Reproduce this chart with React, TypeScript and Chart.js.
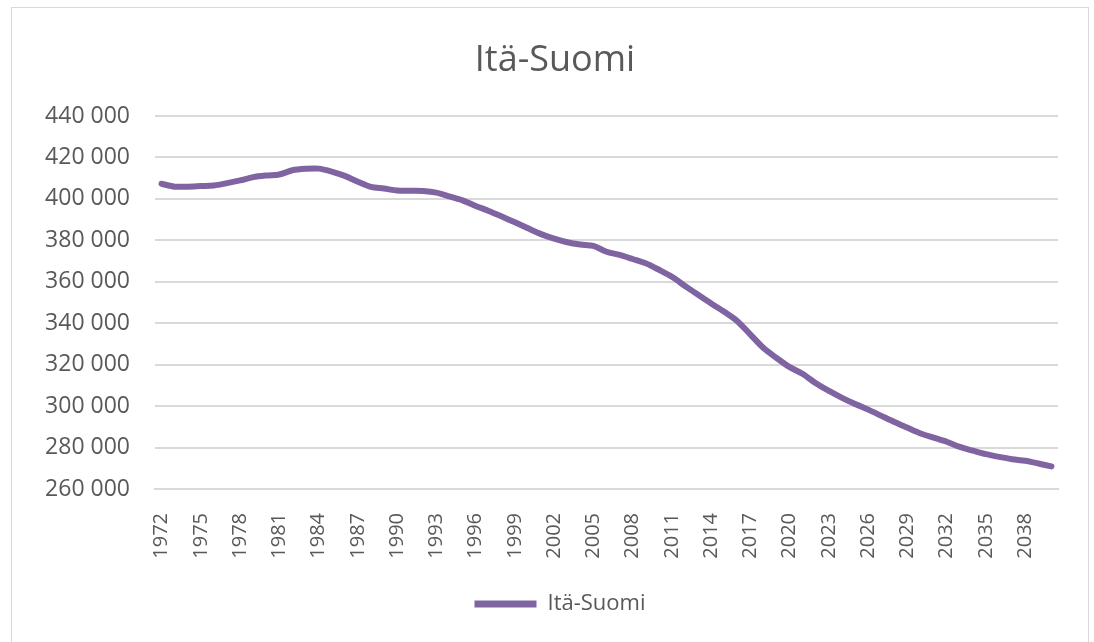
import React, { useEffect, useRef } from "react";
import { Chart, registerables } from "chart.js";

Chart.register(...registerables);

const years: string[] = [
  "1972", "1973", "1974", "1975", "1976", "1977", "1978", "1979", "1980", "1981",
  "1982", "1983", "1984", "1985", "1986", "1987", "1988", "1989", "1990", "1991",
  "1992", "1993", "1994", "1995", "1996", "1997", "1998", "1999", "2000", "2001",
  "2002", "2003", "2004", "2005", "2006", "2007", "2008", "2009", "2010", "2011",
  "2012", "2013", "2014", "2015", "2016", "2017", "2018", "2019", "2020", "2021",
  "2022", "2023", "2024", "2025", "2026", "2027", "2028", "2029", "2030", "2031",
  "2032", "2033", "2034", "2035", "2036", "2037", "2038", "2039", "2040",
];

const itaSuomi: number[] = [
  407300, 405900, 405900, 406200, 406500, 407600, 408900, 410500, 411300, 411800,
  413800, 414500, 414600, 413200, 411100, 408300, 405800, 405000, 404000, 403900,
  403800, 403000, 401200, 399300, 396600, 394200, 391500, 388700, 385800, 383000,
  380800, 379100, 378000, 377300, 374500, 373000, 371000, 368900, 365800, 362400,
  358000, 353700, 349500, 345500, 341000, 334500, 328000, 323200, 318800, 315500,
  311000, 307300, 304000, 301000, 298300, 295300, 292300, 289500, 286800, 284800,
  282800, 280300, 278500, 276800, 275500, 274400, 273600, 272300, 270900,
];

const chartTitle = "Itä-Suomi";
const seriesName = "Itä-Suomi";
const yMin = 260000;
const yMax = 440000;
const yStep = 20000;

const PURPLE = "#8064A2";
const GRID = "#d9d9d9";
const TEXT = "#595959";
const FONT = "'Open Sans', 'DejaVu Sans', sans-serif";

function formatThousands(v: number): string {
  return String(Math.round(v)).replace(/\B(?=(\d{3})+(?!\d))/g, " ");
}

const titlePlugin = {
  id: "customTitle",
  afterLayout(chart: any) {
    // nudge the legend so it sits where the reference has it
    const lg = chart.legend;
    if (lg) {
      lg.left += 25;
      lg.right += 25;
    }
  },
  afterDraw(chart: any) {
    const ctx = chart.ctx;
    ctx.save();
    ctx.fillStyle = TEXT;
    ctx.font = `36px ${FONT}`;
    ctx.textAlign = "center";
    ctx.textBaseline = "alphabetic";
    ctx.fillText(chartTitle, 543, 63);
    ctx.restore();
  },
};

export default function App() {
  const ref = useRef<HTMLCanvasElement | null>(null);

  useEffect(() => {
    if (!ref.current) return;
    const chart = new Chart(ref.current, {
      type: "line",
      data: {
        labels: years,
        datasets: [
          {
            label: seriesName,
            data: itaSuomi,
            borderColor: PURPLE,
            backgroundColor: PURPLE,
            borderWidth: 6,
            pointRadius: 0,
            tension: 0.3,
            borderCapStyle: "round",
            borderJoinStyle: "round",
          },
        ],
      },
      plugins: [titlePlugin],
      options: {
        responsive: false,
        animation: false,
        layout: { padding: { left: 0, right: 30, top: 108, bottom: 17 } },
        plugins: {
          title: { display: false },
          legend: {
            display: true,
            position: "bottom",
            labels: {
              color: TEXT,
              font: { family: FONT, size: 22 },
              boxWidth: 62,
              boxHeight: 7,
              padding: 10,
              generateLabels: (c: any) =>
                Chart.defaults.plugins.legend.labels
                  .generateLabels(c)
                  .map((l: any) => ({ ...l, lineWidth: 0, fillStyle: PURPLE })),
            },
          },
          tooltip: { enabled: false },
        },
        scales: {
          x: {
            type: "category",
            offset: true,
            grid: { display: false, drawTicks: false },
            border: { display: true, color: GRID, width: 2 },
            ticks: {
              autoSkip: false,
              maxRotation: 90,
              minRotation: 90,
              padding: 24,
              color: TEXT,
              font: { family: FONT, size: 20 },
              callback: (_v: any, i: number) => (i % 3 === 0 ? years[i] : ""),
            },
            afterFit: (s: any) => {
              s.height = 94;
              s.paddingLeft = 0;
              s.paddingRight = 0;
            },
          },
          y: {
            min: yMin,
            max: yMax,
            grid: { color: GRID, lineWidth: 2, drawTicks: false },
            border: { display: false },
            ticks: {
              stepSize: yStep,
              padding: 25,
              color: TEXT,
              font: { family: FONT, size: 23 },
              callback: (v: any) => formatThousands(Number(v)),
            },
            afterFit: (s: any) => {
              s.width = 143;
            },
          },
        },
      },
    });
    return () => chart.destroy();
  }, []);

  return (
    <div
      style={{
        position: "absolute",
        left: 11,
        top: 7,
        width: 1076,
        height: 700,
        border: `1px solid ${GRID}`,
        background: "#fff",
      }}
    >
      <canvas ref={ref} width={1076} height={634} style={{ display: "block" }} />
    </div>
  );
}
